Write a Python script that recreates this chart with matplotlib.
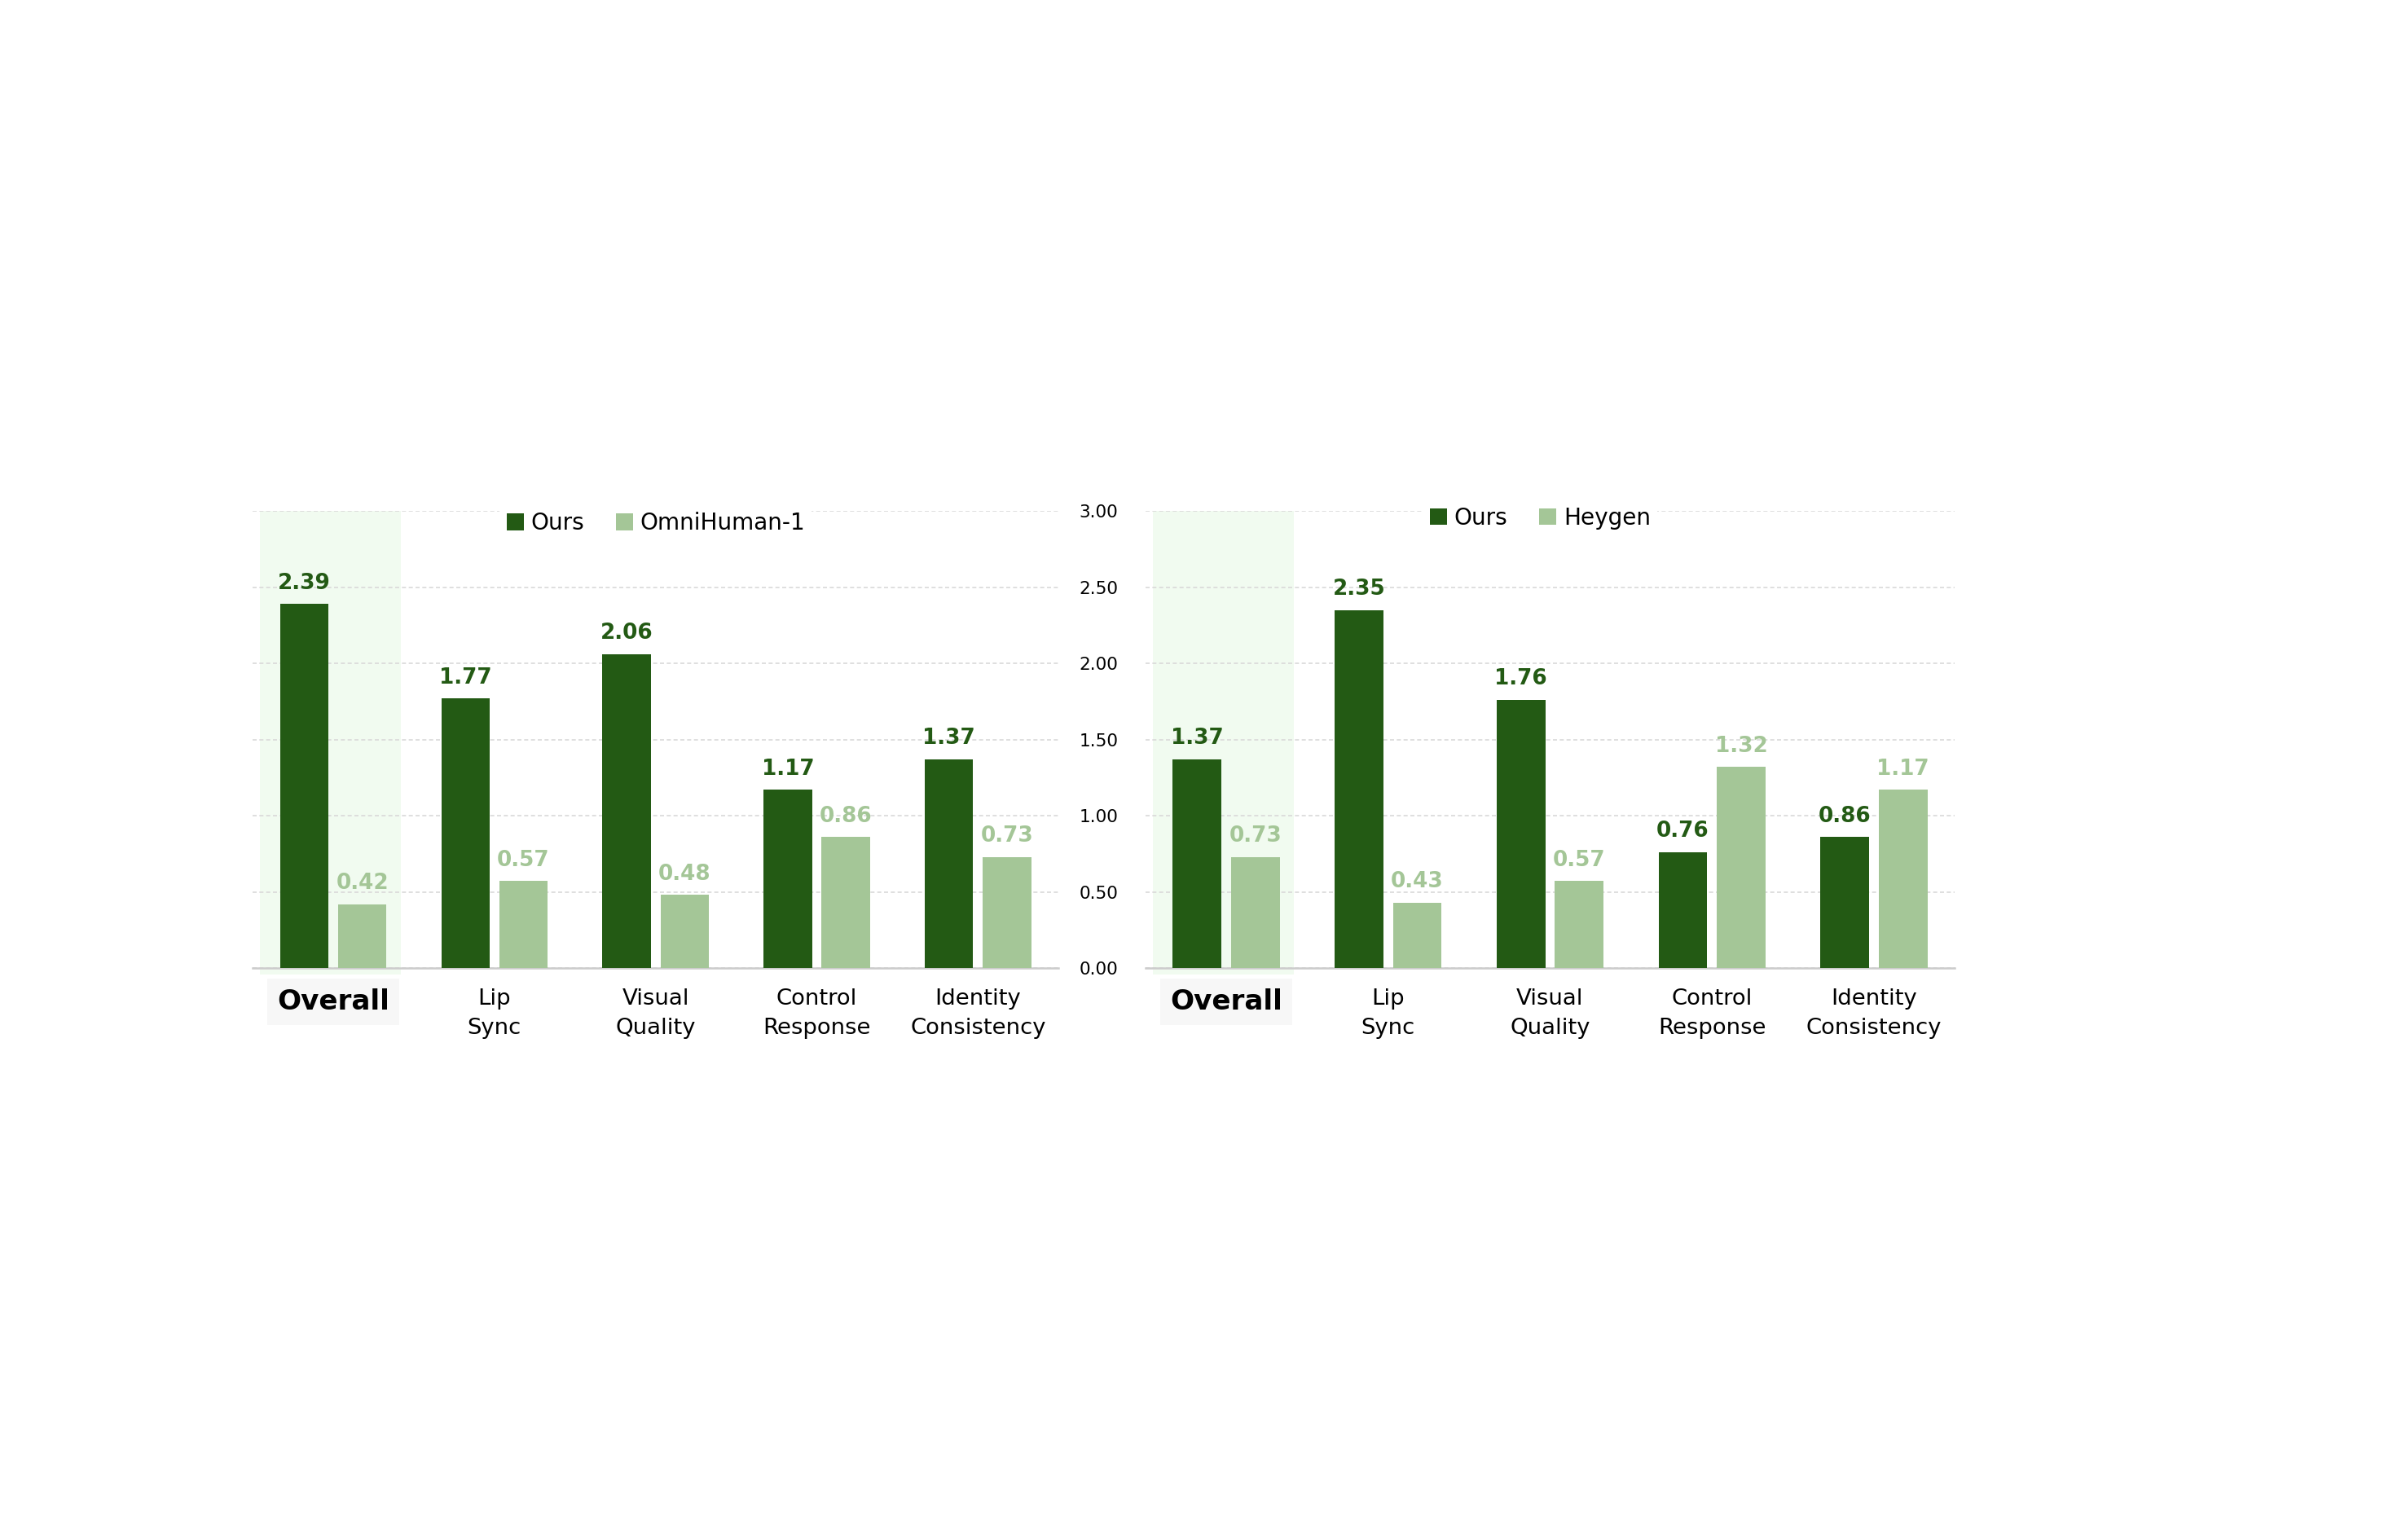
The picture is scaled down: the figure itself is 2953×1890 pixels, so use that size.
import matplotlib
matplotlib.use("Agg")
import matplotlib.pyplot as plt
from matplotlib.patches import Patch, Rectangle
import numpy as np

plt.rcParams['font.family'] = ['DejaVu Sans']

categories = ["Overall", "Lip\nSync", "Visual\nQuality", "Control\nResponse", "Identity\nConsistency"]
ours_vs_omni = [2.39, 1.77, 2.06, 1.17, 1.37]
omnihuman = [0.42, 0.57, 0.48, 0.86, 0.73]
ours_vs_heygen = [1.37, 2.35, 1.76, 0.76, 0.86]
heygen = [0.73, 0.43, 0.57, 1.32, 1.17]
yticks = [0.0, 0.5, 1.0, 1.5, 2.0, 2.5, 3.0]

dark = "#235a14"
light = "#a4c697"
band = "#f1fbf0"

fig = plt.figure(figsize=(2953 / 300, 1890 / 300), dpi=300)
ax1 = fig.add_axes([0.105, 0.3714, 0.335, 0.2968])
ax2 = fig.add_axes([0.476, 0.3714, 0.3365, 0.2968])


def draw(ax, ours, other, other_name, show_y, leg_xy):
    x = np.arange(len(categories))
    w = 0.3
    off = 0.18
    # highlight behind "Overall"
    ax.add_patch(Rectangle((-0.455, -0.04), 0.875, 3.04, facecolor=band,
                           edgecolor="none", zorder=0, clip_on=False))
    b1 = ax.bar(x - off, ours, w, color=dark, zorder=2)
    b2 = ax.bar(x + off, other, w, color=light, zorder=2)
    for r, v in zip(b1, ours):
        ax.annotate(f"{v:.2f}", (r.get_x() + r.get_width() / 2, v),
                    xytext=(0, 3), textcoords="offset points", ha="center",
                    va="bottom", fontsize=6.3, fontweight="bold", color=dark)
    for r, v in zip(b2, other):
        ax.annotate(f"{v:.2f}", (r.get_x() + r.get_width() / 2, v),
                    xytext=(0, 3), textcoords="offset points", ha="center",
                    va="bottom", fontsize=6.3, fontweight="bold", color=light)

    ax.set_xlim(-0.5, len(categories) - 0.5)
    ax.set_ylim(0, 3.0)
    ax.set_yticks(yticks)
    ax.yaxis.grid(True, linestyle=(0, (3, 2)), linewidth=0.4, color="#d9d9d9", zorder=0.5)
    ax.set_axisbelow(True)
    for s in ["top", "right", "left"]:
        ax.spines[s].set_visible(False)
    ax.spines["bottom"].set_color("#cccccc")
    ax.spines["bottom"].set_linewidth(0.6)
    ax.spines["bottom"].set_zorder(1)
    ax.tick_params(length=0)
    ax.tick_params(axis="x", pad=6)
    ax.tick_params(axis="y", pad=8, labelsize=5.2)
    if show_y:
        ax.set_yticklabels([f"{t:.2f}" for t in yticks])
    else:
        ax.set_yticklabels([])
    ax.set_xticks(x)
    ax.set_xticklabels(categories, fontsize=6.6, linespacing=1.5)
    lab = ax.get_xticklabels()[0]
    lab.set_fontweight("bold")
    lab.set_fontsize(8.2)
    lab.set_bbox(dict(facecolor="#f7f7f7", edgecolor="none", boxstyle="square,pad=0.35"))

    handles = [Patch(facecolor=dark, label="Ours"), Patch(facecolor=light, label=other_name)]
    leg = ax.legend(handles=handles, loc="center", bbox_to_anchor=leg_xy, ncol=2,
                    fontsize=6.7, frameon=True, handlelength=0.75, handleheight=0.75,
                    handletextpad=0.3, columnspacing=1.4, borderpad=0.3, fancybox=False)
    leg.get_frame().set_facecolor("white")
    leg.get_frame().set_edgecolor("none")
    leg.get_frame().set_alpha(1)


draw(ax1, ours_vs_omni, omnihuman, "OmniHuman-1", False, (0.5, 0.973))
draw(ax2, ours_vs_heygen, heygen, "Heygen", True, (0.488, 0.985))

fig.savefig("out.png", dpi=300, facecolor="white")
